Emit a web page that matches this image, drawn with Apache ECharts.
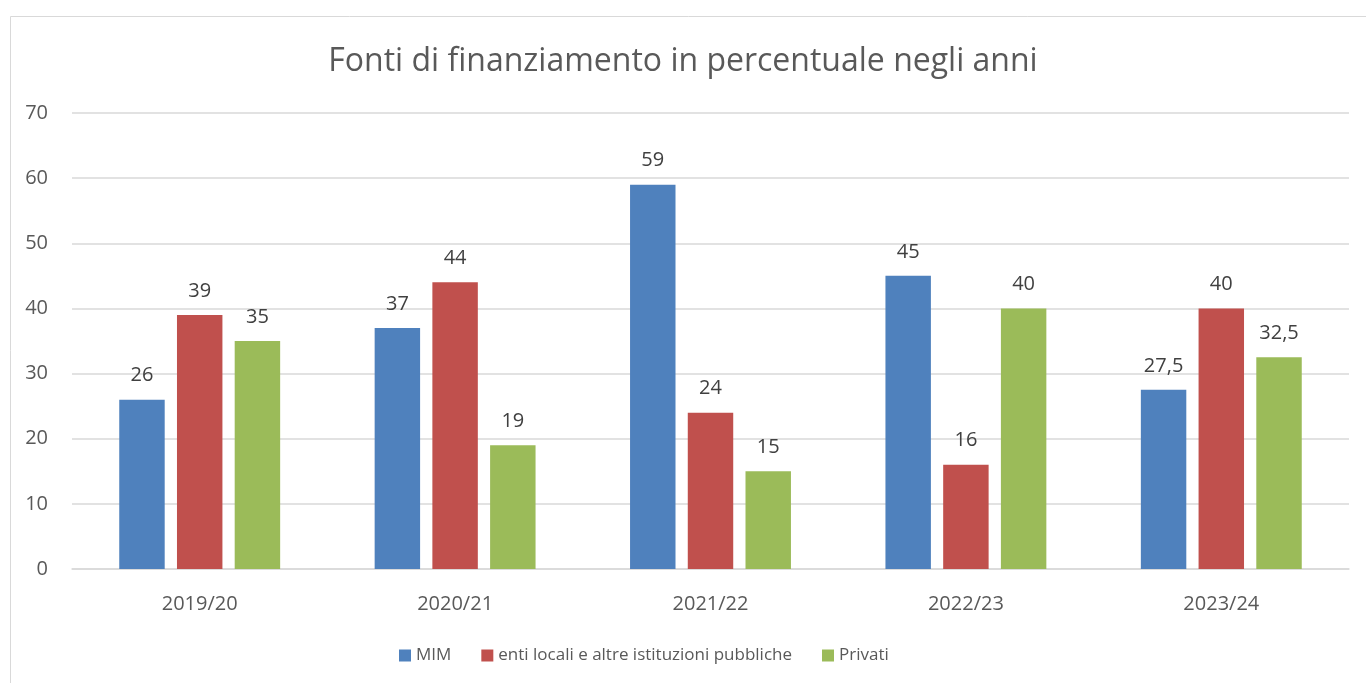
<!DOCTYPE html>
<html>
<head>
<meta charset="utf-8">
<script src="https://cdn.jsdelivr.net/npm/echarts@6/dist/echarts.min.js"></script>
<style>
  html, body { margin: 0; padding: 0; background: #fff; }
  #chart { width: 1366px; height: 683px; }
</style>
</head>
<body>
<div id="chart"></div>
<script>
var years = ['2019/20', '2020/21', '2021/22', '2022/23', '2023/24'];
var mim = [26, 37, 59, 45, 27.5];
var enti = [39, 44, 24, 16, 40];
var privati = [35, 19, 15, 40, 32.5];
var yTicks = [0, 10, 20, 30, 40, 50, 60, 70];

var font = 'Open Sans';
var grey = '#595959';

var chart = echarts.init(document.getElementById('chart'));

function fmt(p) {
  return String(p.value).replace('.', ',');
}

function bar(name, data, color) {
  return {
    name: name,
    type: 'bar',
    data: data,
    barGap: '27%',
    barCategoryGap: '37%',
    itemStyle: { color: color },
    label: {
      show: true,
      position: 'top',
      distance: 14,
      formatter: fmt,
      color: '#404040',
      fontFamily: font,
      fontSize: 20
    }
  };
}

var option = {
  animation: false,
  graphic: [{
    type: 'rect',
    left: 8,
    top: 14,
    shape: { width: 1400, height: 700 },
    style: { fill: 'none', stroke: '#d9d9d9', lineWidth: 1 }
  }],
  title: {
    text: 'Fonti di finanziamento in percentuale negli anni',
    left: 'center',
    top: 41,
    textStyle: { fontFamily: font, fontSize: 32, fontWeight: 'normal', color: grey }
  },
  legend: {
    bottom: 14,
    left: 394,
    itemWidth: 12,
    itemHeight: 12,
    itemGap: 30,
    icon: 'rect',
    textStyle: { fontFamily: font, fontSize: 17, color: grey }
  },
  grid: { left: 72, right: 17, top: 113, bottom: 114 },
  xAxis: {
    type: 'category',
    data: years,
    axisLine: { lineStyle: { color: '#d9d9d9', width: 1.5 } },
    axisTick: { show: false },
    axisLabel: { fontFamily: font, fontSize: 20, color: grey, margin: 25 }
  },
  yAxis: {
    type: 'value',
    min: yTicks[0],
    max: yTicks[yTicks.length - 1],
    interval: 10,
    axisLine: { show: false },
    axisTick: { show: false },
    splitLine: { lineStyle: { color: '#d9d9d9', width: 1.5 } },
    axisLabel: { fontFamily: font, fontSize: 20, color: grey, margin: 24 }
  },
  series: [
    bar('MIM', mim, '#4f81bd'),
    bar('enti locali e altre istituzioni pubbliche', enti, '#c0504d'),
    bar('Privati', privati, '#9bbb59')
  ]
};

chart.setOption(option);
</script>
</body>
</html>
